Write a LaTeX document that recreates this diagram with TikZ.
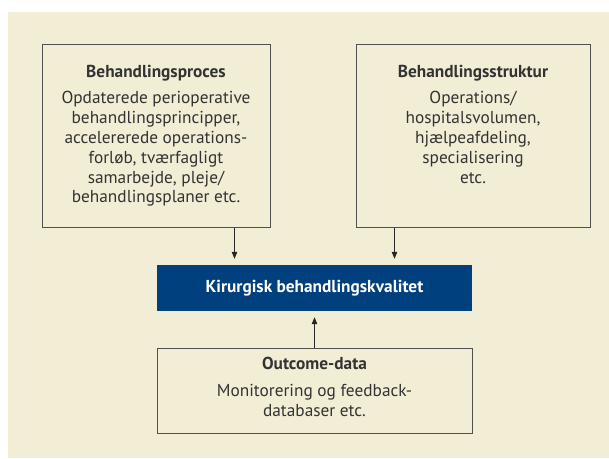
\documentclass[tikz,border=0pt]{standalone}
\usepackage{fontspec}
\setmainfont{PT Sans}
\usetikzlibrary{positioning,arrows.meta}

\definecolor{bgbeige}{HTML}{F2EDD5}
\definecolor{kvalblue}{HTML}{00407F}
\definecolor{rimgray}{HTML}{505050}
\definecolor{txtgray}{HTML}{333333}

\tikzset{
  box/.style={draw=rimgray, line width=1pt, fill=bgbeige, inner sep=0pt},
  boxtext/.style={align=center, text=txtgray, inner sep=0pt,
    font=\fontsize{17.3}{19.8}\selectfont},
  arrow/.style={-{Triangle[width=5.5pt,length=7pt]}, line width=0.8pt, draw=black!85}
}

\begin{document}
\begin{tikzpicture}[x=1pt, y=-1pt]

  \useasboundingbox (0,0) rectangle (609,458);
  \fill[bgbeige] (8,12) rectangle (609,458);

  \node (procbox) [box, minimum width=228pt, minimum height=183pt] at (156,135.5) {};
  \node (strukbox) [box, minimum width=234pt, minimum height=183pt] at (473,135.5) {};
  \node (kval) [fill=kvalblue, minimum width=315pt, minimum height=46pt, inner sep=0pt,
    text=white, font=\fontsize{17.3}{18}\selectfont\bfseries] at (314.5,288) {Kirurgisk behandlingskvalitet};
  \node (outbox) [box, minimum width=315pt, minimum height=85pt] at (314.5,390.5) {};

  \node (proctext) [boxtext, below=21pt of procbox.north]
    {{\bfseries Behandlingsproces}\\[7pt]
     Opdaterede perioperative\\ behandlingsprincipper,\\ accelererede operations-\\
     forløb, tværfagligt\\ samarbejde, pleje/\\ behandlingsplaner etc.};
  \node (struktext) [boxtext, below=21pt of strukbox.north]
    {{\bfseries Behandlingsstruktur}\\[7pt]
     Operations/\\ hospitalsvolumen,\\ hjælpeafdeling,\\ specialisering\\ etc.};
  \node (outtext) [boxtext, below=9pt of outbox.north]
    {{\bfseries Outcome-data}\\[8pt]
     Monitorering og feedback-\\ databaser etc.};

  \draw[arrow] ([xshift=-80pt]kval.north |- procbox.south) -- ([xshift=-80pt, yshift=6pt]kval.north);
  \draw[arrow] ([xshift=80pt]kval.north |- strukbox.south) -- ([xshift=80pt, yshift=6pt]kval.north);
  \draw[arrow] (outbox.north) -- ([yshift=-6pt]kval.south);

\end{tikzpicture}
\end{document}
